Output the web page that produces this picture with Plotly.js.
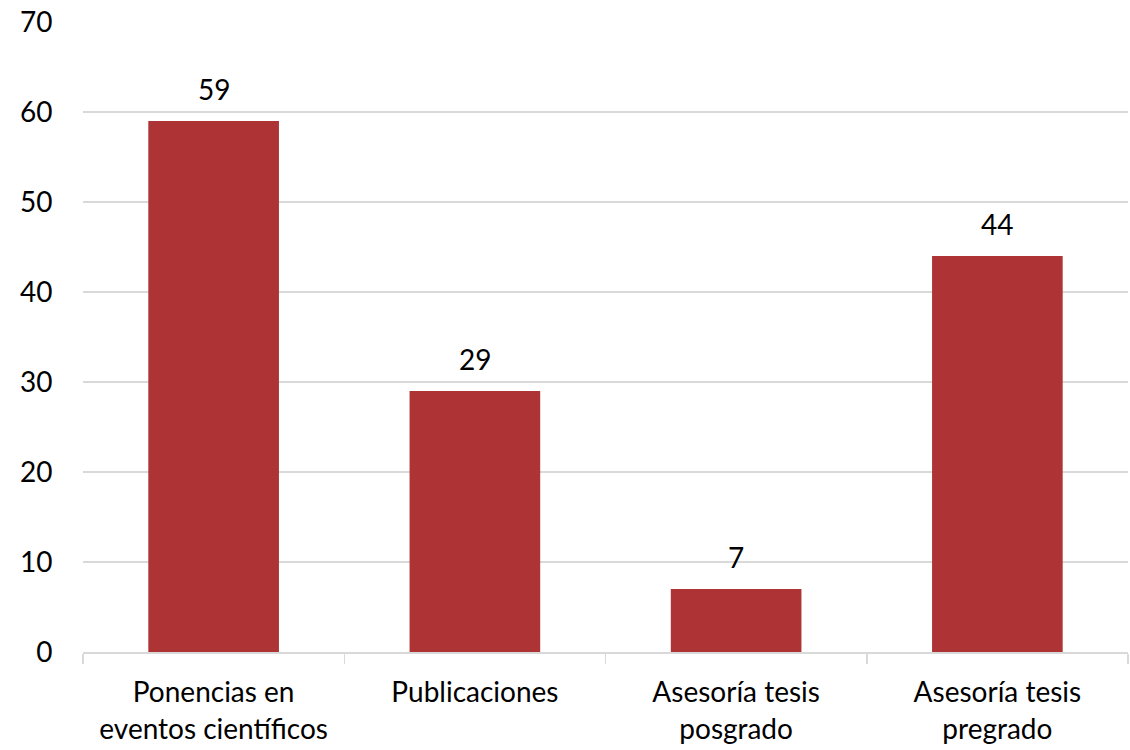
<!DOCTYPE html>
<html>
<head>
<meta charset="utf-8">
<script src="https://cdn.plot.ly/plotly-3.0.1.min.js"></script>
<style>body{margin:0;background:#fff}#chart{width:1130px;height:750px}</style>
</head>
<body>
<div id="chart"></div>
<script>
const categories = ["Ponencias en eventos científicos", "Publicaciones", "Asesoría tesis posgrado", "Asesoría tesis pregrado"];
const tickLabels = ["Ponencias en<br>eventos científicos", "Publicaciones", "Asesoría tesis<br>posgrado", "Asesoría tesis<br>pregrado"];
const values = [59, 29, 7, 44];
const yTicks = [0, 10, 20, 30, 40, 50, 60, 70];

const FONT = "Lato, 'Open Sans', sans-serif";
const FS = 28;

const trace = {
  type: "bar",
  x: categories,
  y: values,
  width: 0.5,
  marker: {color: "#AD3334"},
  hoverinfo: "x+y"
};

const annotations = categories.map((c, i) => ({
  x: c, y: values[i], xref: "x", yref: "y",
  text: String(values[i]), showarrow: false,
  yanchor: "bottom", yshift: 13,
  font: {family: FONT, size: FS, color: "#000"}
}));

const layout = {
  width: 1130, height: 750,
  margin: {l: 83, r: 2, t: 22, b: 98},
  paper_bgcolor: "#fff", plot_bgcolor: "#fff",
  font: {family: FONT, size: FS, color: "#000"},
  showlegend: false,
  bargap: 0.5,
  xaxis: {
    tickmode: "array", tickvals: categories, ticktext: tickLabels,
    tickson: "boundaries", ticks: "outside", ticklen: 10, tickcolor: "#d9d9d9", tickwidth: 1.5,
    ticklabelstandoff: 15,
    showline: true, linecolor: "#d9d9d9", linewidth: 1.5,
    showgrid: false, zeroline: false,
    tickfont: {family: FONT, size: FS, color: "#000"}
  },
  yaxis: {
    range: [0, 70], tickmode: "array", tickvals: yTicks,
    showgrid: true, gridcolor: "#d9d9d9", gridwidth: 1.5,
    zeroline: false, showline: false,
    ticks: "outside", ticklen: 24, tickcolor: "rgba(0,0,0,0)",
    tickfont: {family: FONT, size: FS, color: "#000"}
  },
  annotations: annotations
};

Plotly.newPlot("chart", [trace], layout, {displayModeBar: false, staticPlot: true});
</script>
</body>
</html>
